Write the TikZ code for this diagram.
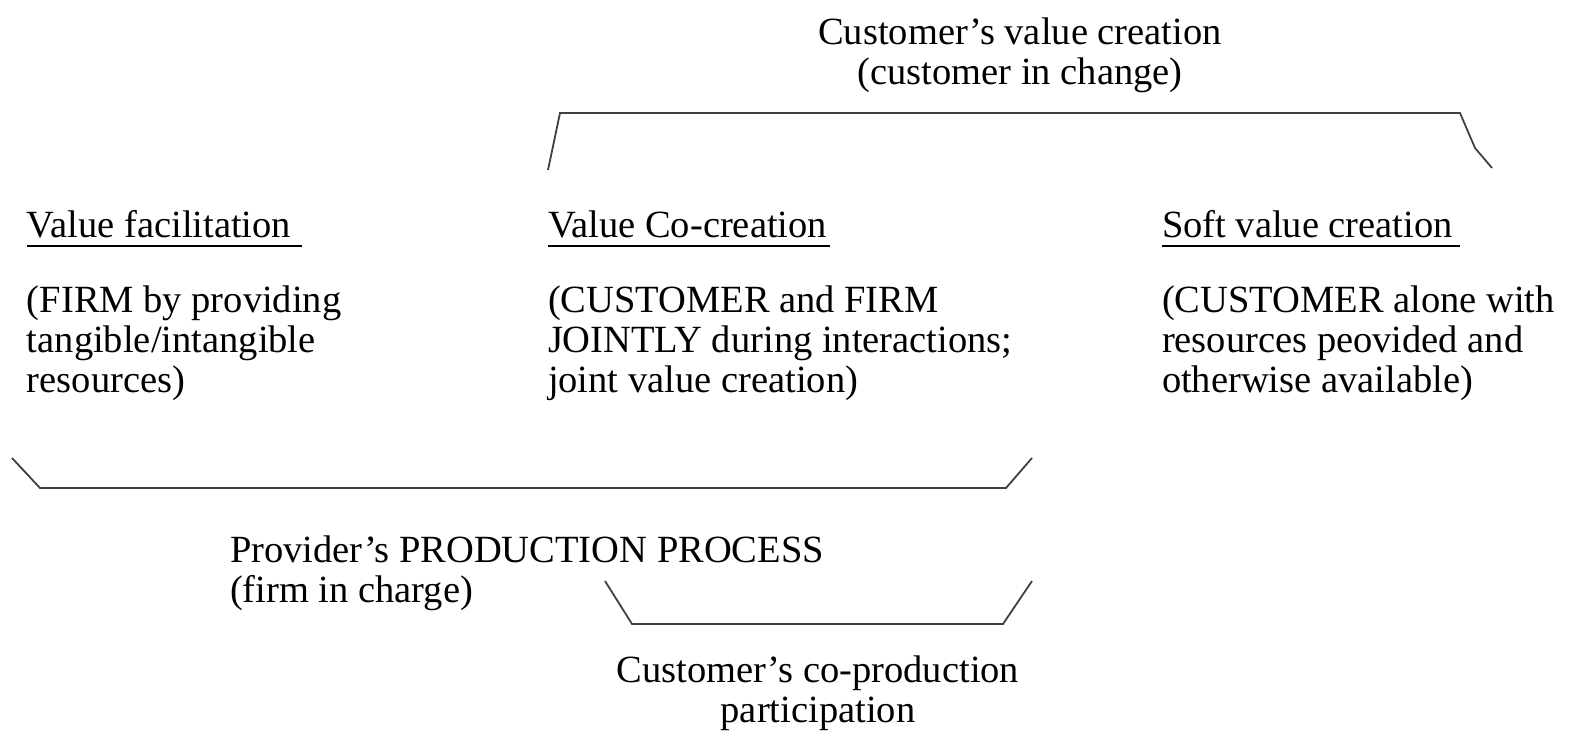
\documentclass[tikz,border=0pt]{standalone}
\usepackage{fontspec}
\setmainfont{Liberation Serif}
\begin{document}
\begin{tikzpicture}[x=1pt,y=-1pt,
  txt/.style={inner sep=0pt,outer sep=0pt,align=left,font=\fontsize{38.5}{40}\selectfont},
  ctxt/.style={inner sep=0pt,outer sep=0pt,align=center,font=\fontsize{38.5}{40}\selectfont},
  brace/.style={draw=black!75,line width=1.8pt,line join=miter},
  uline/.style={draw=black,line width=1.8pt}]
\useasboundingbox (0,0) rectangle (1571,738);
% top label (base anchor = last line)
\node[ctxt,anchor=base] (top) at (1020,85) {Customer’s value creation\\(customer in change)};
% top bracket
\coordinate (t1) at (548,170);
\coordinate (t2) at (560,113);
\coordinate (t3) at (1460,113);
\coordinate (t4) at (1475,148);
\coordinate (t5) at (1492,168);
\draw[brace] (t1) -- (t2) -- (t3) -- (t4) -- (t5);
% headings
\node[txt,anchor=base west] (h1) at (27,237) {Value facilitation};
\node[txt,anchor=base west] (h2) at (548,237) {Value Co-creation};
\node[txt,anchor=base west] (h3) at (1162,237) {Soft value creation};
\coordinate (u1a) at (27,246); \coordinate (u1b) at (302,246);
\coordinate (u2a) at (548,246); \coordinate (u2b) at (830,246);
\coordinate (u3a) at (1162,246); \coordinate (u3b) at (1460,246);
\draw[uline] (u1a) -- (u1b);
\draw[uline] (u2a) -- (u2b);
\draw[uline] (u3a) -- (u3b);
% bodies (base anchor = last line baseline)
\node[txt,anchor=base west] (b1) at (27,392) {(FIRM by providing\\tangible/intangible\\resources)};
\node[txt,anchor=base west] (b2) at (548,392) {(CUSTOMER and FIRM\\JOINTLY during interactions;\\joint value creation)};
\node[txt,anchor=base west] (b3) at (1162,392) {(CUSTOMER alone with\\resources peovided and\\otherwise available)};
% provider bracket
\coordinate (p1) at (12,458);
\coordinate (p2) at (40,488);
\coordinate (p3) at (1006,488);
\coordinate (p4) at (1032,458);
\draw[brace] (p1) -- (p2) -- (p3) -- (p4);
\node[txt,anchor=base west] (prov) at (230,602) {Provider’s PRODUCTION PROCESS\\(firm in charge)};
% co-production bracket
\coordinate (c1) at (605,581);
\coordinate (c2) at (632,624);
\coordinate (c3) at (1003,624);
\coordinate (c4) at (1032,581);
\draw[brace] (c1) -- (c2) -- (c3) -- (c4);
\node[ctxt,anchor=base] (cop) at (818,722) {Customer’s co-production\\participation};
\end{tikzpicture}
\end{document}
